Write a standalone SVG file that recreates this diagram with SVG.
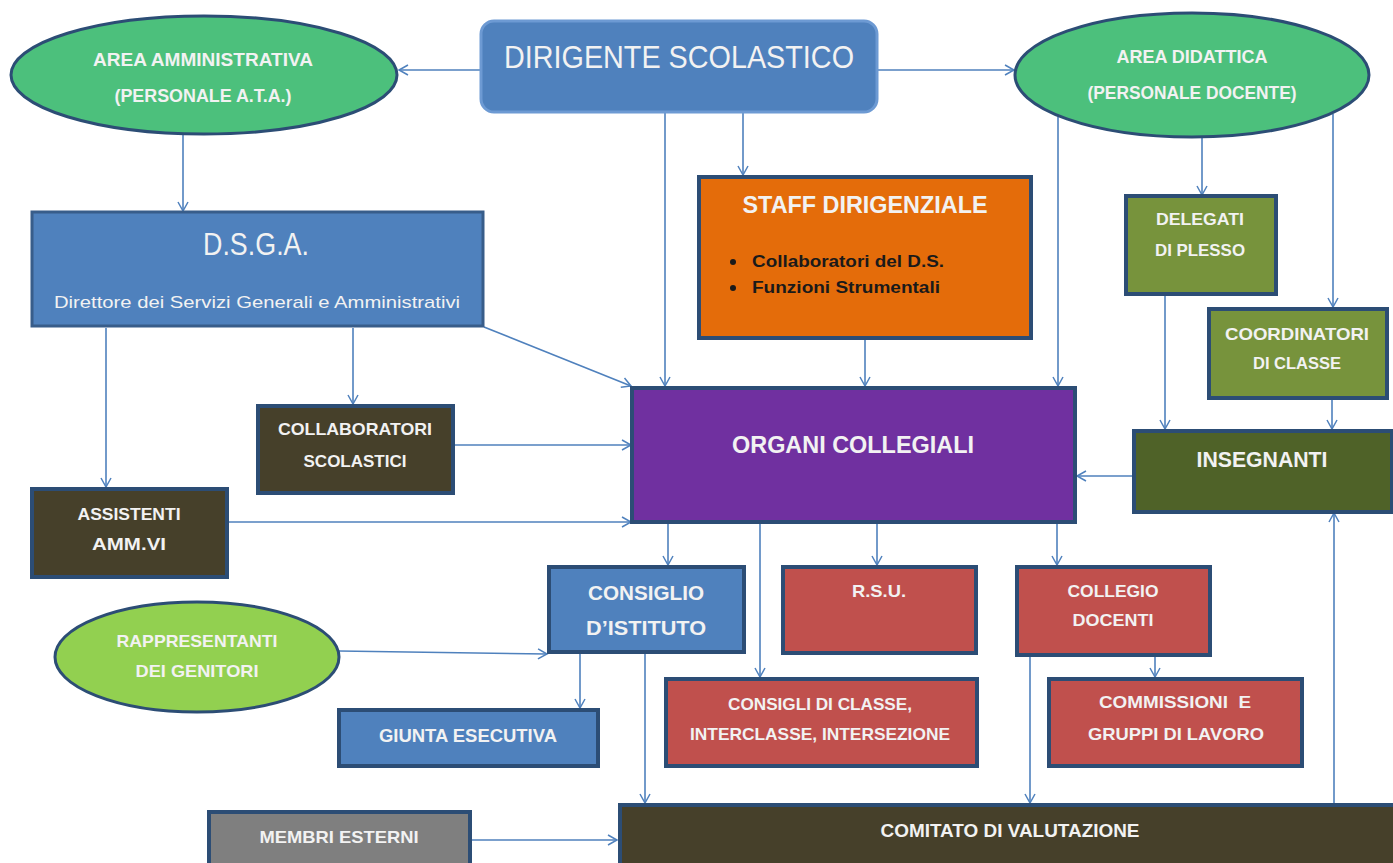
<svg xmlns="http://www.w3.org/2000/svg" width="1393" height="863" viewBox="0 0 1393 863">
<defs>
<marker id="arr" markerWidth="12" markerHeight="12" refX="10" refY="6" orient="auto" markerUnits="userSpaceOnUse">
<path d="M1,1 L10,6 L1,11" fill="none" stroke="#4f81bd" stroke-width="1.5"/>
</marker>
<style>
.c{stroke:#4f81bd;stroke-width:1.6;fill:none;marker-end:url(#arr)}
.box{stroke:#2c4d75;stroke-width:4}
.t{font-family:"Liberation Sans",Arial,sans-serif;font-weight:bold;fill:#f2f2f2;text-anchor:middle;white-space:pre}
.n{font-family:"Liberation Sans",Arial,sans-serif;fill:#f2f2f2;text-anchor:middle}
.d{font-family:"Liberation Sans",Arial,sans-serif;font-weight:bold;fill:#1a1a1a}
.blue{fill:#4f81bd}
.brown{fill:#46402a}
.red{fill:#c0504d}
.olive{fill:#77933c}
</style>
</defs>
<rect width="1393" height="863" fill="#ffffff"/>

<g id="connectors">
<line class="c" x1="480" y1="70" x2="399" y2="70"/>
<line class="c" x1="878" y1="70" x2="1014" y2="70"/>
<line class="c" x1="183" y1="135" x2="183" y2="211"/>
<line class="c" x1="743" y1="113" x2="743" y2="175"/>
<line class="c" x1="665" y1="113" x2="665" y2="386"/>
<line class="c" x1="1058" y1="117" x2="1058" y2="386"/>
<line class="c" x1="1202" y1="138" x2="1202" y2="195"/>
<line class="c" x1="1333" y1="114" x2="1333" y2="307"/>
<line class="c" x1="484" y1="327" x2="631" y2="386"/>
<line class="c" x1="865" y1="340" x2="865" y2="386"/>
<line class="c" x1="106" y1="328" x2="106" y2="487"/>
<line class="c" x1="353" y1="328" x2="353" y2="404"/>
<line class="c" x1="454" y1="445" x2="631" y2="445"/>
<line class="c" x1="228" y1="522" x2="631" y2="522"/>
<line class="c" x1="1165" y1="295" x2="1165" y2="429"/>
<line class="c" x1="1332" y1="399" x2="1332" y2="429"/>
<line class="c" x1="1132" y1="476" x2="1077" y2="476"/>
<line class="c" x1="668" y1="524" x2="668" y2="565"/>
<line class="c" x1="877" y1="524" x2="877" y2="565"/>
<line class="c" x1="1057" y1="524" x2="1057" y2="565"/>
<line class="c" x1="760" y1="524" x2="760" y2="677"/>
<line class="c" x1="1155" y1="657" x2="1155" y2="677"/>
<line class="c" x1="580" y1="654" x2="580" y2="708"/>
<line class="c" x1="339" y1="651" x2="547" y2="654"/>
<line class="c" x1="645" y1="654" x2="645" y2="803"/>
<line class="c" x1="1030" y1="657" x2="1030" y2="803"/>
<line class="c" x1="471" y1="840" x2="617" y2="840"/>
<line class="c" x1="1334" y1="804" x2="1334" y2="513"/>
</g>

<g id="dirigente">
<rect x="481" y="21" width="396" height="91" rx="13" fill="#4f81bd" stroke="#6d9ad3" stroke-width="3"/>
<text class="n" x="679" y="68" font-size="32" textLength="350" lengthAdjust="spacingAndGlyphs">DIRIGENTE SCOLASTICO</text>
</g>

<g id="area-amministrativa">
<ellipse cx="204" cy="75" rx="193" ry="59" fill="#4cc07c" stroke="#2c4d75" stroke-width="3"/>
<text class="t" x="203" y="66" font-size="19" textLength="220" lengthAdjust="spacingAndGlyphs">AREA AMMINISTRATIVA</text>
<text class="t" x="203" y="102" font-size="19" textLength="177" lengthAdjust="spacingAndGlyphs">(PERSONALE A.T.A.)</text>
</g>

<g id="area-didattica">
<ellipse cx="1192" cy="75" rx="177" ry="62" fill="#4cc07c" stroke="#2c4d75" stroke-width="3"/>
<text class="t" x="1192" y="63" font-size="19" textLength="151" lengthAdjust="spacingAndGlyphs">AREA DIDATTICA</text>
<text class="t" x="1192" y="99" font-size="19" textLength="209" lengthAdjust="spacingAndGlyphs">(PERSONALE DOCENTE)</text>
</g>

<g id="dsga">
<rect x="32" y="212" width="451" height="114" fill="#4f81bd" stroke="#385d8a" stroke-width="3"/>
<text class="n" x="256" y="255" font-size="31" textLength="106" lengthAdjust="spacingAndGlyphs">D.S.G.A.</text>
<text class="n" x="257" y="308" font-size="17" textLength="406" lengthAdjust="spacingAndGlyphs">Direttore dei Servizi Generali e Amministrativi</text>
</g>

<g id="staff">
<rect x="699" y="177" width="332" height="161" fill="#e46c0a" class="box"/>
<text class="t" x="865" y="213" font-size="23" textLength="245" lengthAdjust="spacingAndGlyphs">STAFF DIRIGENZIALE</text>
<circle cx="733" cy="262" r="3" fill="#1a1a1a"/>
<circle cx="733" cy="288" r="3" fill="#1a1a1a"/>
<text class="d" x="752" y="267" font-size="16" textLength="192" lengthAdjust="spacingAndGlyphs">Collaboratori del D.S.</text>
<text class="d" x="752" y="293" font-size="16" textLength="188" lengthAdjust="spacingAndGlyphs">Funzioni Strumentali</text>
</g>

<g id="delegati">
<rect x="1126" y="196" width="150" height="98" class="box olive"/>
<text class="t" x="1200" y="225" font-size="17" textLength="88" lengthAdjust="spacingAndGlyphs">DELEGATI</text>
<text class="t" x="1200" y="256" font-size="17" textLength="90" lengthAdjust="spacingAndGlyphs">DI PLESSO</text>
</g>

<g id="coordinatori">
<rect x="1209" y="309" width="178" height="89" class="box olive"/>
<text class="t" x="1297" y="340" font-size="17" textLength="144" lengthAdjust="spacingAndGlyphs">COORDINATORI</text>
<text class="t" x="1297" y="369" font-size="17" textLength="88" lengthAdjust="spacingAndGlyphs">DI CLASSE</text>
</g>

<g id="organi">
<rect x="632" y="388" width="443" height="134" fill="#7030a0" class="box"/>
<text class="t" x="853" y="453" font-size="23" textLength="242" lengthAdjust="spacingAndGlyphs">ORGANI COLLEGIALI</text>
</g>

<g id="insegnanti">
<rect x="1134" y="431" width="258" height="81" fill="#4f6228" class="box"/>
<text class="t" x="1262" y="467" font-size="22" textLength="131" lengthAdjust="spacingAndGlyphs">INSEGNANTI</text>
</g>

<g id="collaboratori">
<rect x="258" y="406" width="195" height="87" class="box brown"/>
<text class="t" x="355" y="435" font-size="17" textLength="154" lengthAdjust="spacingAndGlyphs">COLLABORATORI</text>
<text class="t" x="355" y="467" font-size="17" textLength="103" lengthAdjust="spacingAndGlyphs">SCOLASTICI</text>
</g>

<g id="assistenti">
<rect x="32" y="489" width="195" height="88" class="box brown"/>
<text class="t" x="129" y="520" font-size="17" textLength="103" lengthAdjust="spacingAndGlyphs">ASSISTENTI</text>
<text class="t" x="129" y="550" font-size="17" textLength="74" lengthAdjust="spacingAndGlyphs">AMM.VI</text>
</g>

<g id="consiglio-istituto">
<rect x="549" y="567" width="195" height="85" class="box blue"/>
<text class="t" x="646" y="600" font-size="20" textLength="116" lengthAdjust="spacingAndGlyphs">CONSIGLIO</text>
<text class="t" x="646" y="635" font-size="20" textLength="120" lengthAdjust="spacingAndGlyphs">D’ISTITUTO</text>
</g>

<g id="rsu">
<rect x="783" y="567" width="193" height="86" class="box red"/>
<text class="t" x="879" y="597" font-size="17" textLength="54" lengthAdjust="spacingAndGlyphs">R.S.U.</text>
</g>

<g id="collegio">
<rect x="1017" y="567" width="193" height="88" class="box red"/>
<text class="t" x="1113" y="597" font-size="17" textLength="91" lengthAdjust="spacingAndGlyphs">COLLEGIO</text>
<text class="t" x="1113" y="626" font-size="17" textLength="81" lengthAdjust="spacingAndGlyphs">DOCENTI</text>
</g>

<g id="rappresentanti">
<ellipse cx="197" cy="657" rx="142" ry="55" fill="#92d050" stroke="#2c4d75" stroke-width="3"/>
<text class="t" x="197" y="647" font-size="17" textLength="161" lengthAdjust="spacingAndGlyphs">RAPPRESENTANTI</text>
<text class="t" x="197" y="677" font-size="17" textLength="123" lengthAdjust="spacingAndGlyphs">DEI GENITORI</text>
</g>

<g id="giunta">
<rect x="339" y="710" width="259" height="56" class="box blue"/>
<text class="t" x="468" y="742" font-size="18" textLength="178" lengthAdjust="spacingAndGlyphs">GIUNTA ESECUTIVA</text>
</g>

<g id="consigli-classe">
<rect x="666" y="679" width="311" height="87" class="box red"/>
<text class="t" x="820" y="710" font-size="17" textLength="184" lengthAdjust="spacingAndGlyphs">CONSIGLI DI CLASSE,</text>
<text class="t" x="820" y="740" font-size="17" textLength="260" lengthAdjust="spacingAndGlyphs">INTERCLASSE, INTERSEZIONE</text>
</g>

<g id="commissioni">
<rect x="1049" y="679" width="253" height="87" class="box red"/>
<text class="t" x="1175" y="708" font-size="17" textLength="152" lengthAdjust="spacingAndGlyphs" xml:space="preserve">COMMISSIONI  E</text>
<text class="t" x="1176" y="740" font-size="17" textLength="176" lengthAdjust="spacingAndGlyphs">GRUPPI DI LAVORO</text>
</g>

<g id="membri-esterni">
<rect x="209" y="812" width="261" height="60" fill="#7f7f7f" class="box"/>
<text class="t" x="339" y="843" font-size="17" textLength="159" lengthAdjust="spacingAndGlyphs">MEMBRI ESTERNI</text>
</g>

<g id="comitato">
<rect x="620" y="805" width="790" height="70" class="box brown"/>
<text class="t" x="1010" y="837" font-size="18" textLength="259" lengthAdjust="spacingAndGlyphs">COMITATO DI VALUTAZIONE</text>
</g>
</svg>
